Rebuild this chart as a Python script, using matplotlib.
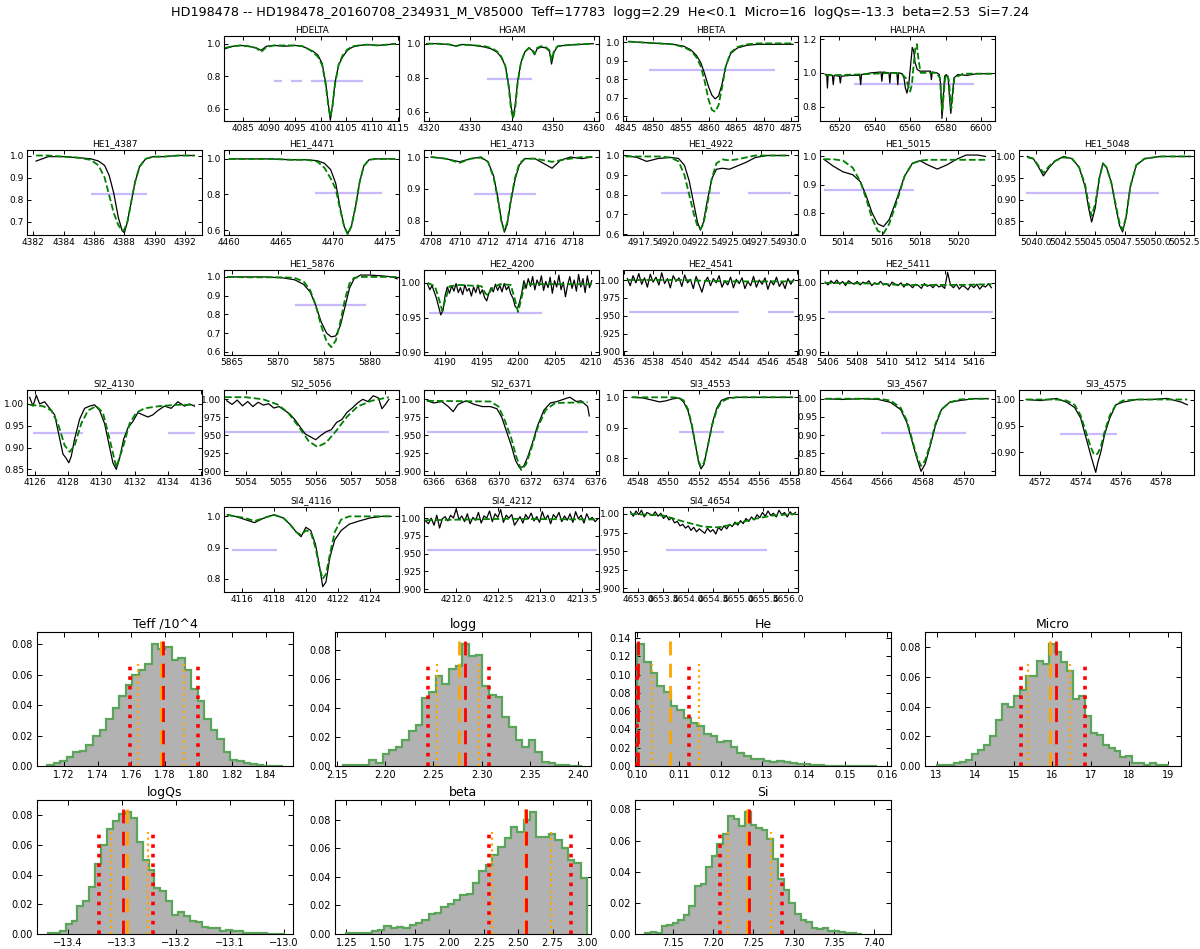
import numpy as np
import matplotlib
matplotlib.use("Agg")
import matplotlib.pyplot as plt
from matplotlib.ticker import FuncFormatter

title = ("HD198478 -- HD198478_20160708_234931_M_V85000  Teff=17783  logg=2.29  "
         "He<0.1  Micro=16  logQs=-13.3  beta=2.53  Si=7.24")

hdelta_w = [4081.5, 4083, 4084.5, 4086, 4087.5, 4088.5, 4089.5, 4091, 4093, 4095, 4096.5, 4097.5,
            4098.5, 4099.5, 4100.3, 4101.0, 4101.5, 4101.9, 4102.3, 4102.8, 4103.5, 4104.3, 4105.2,
            4106.2, 4107.5, 4109, 4111, 4113, 4114.5]
hdelta_obs = [0.97, 0.985, 0.99, 0.985, 0.975, 0.96, 0.985, 0.99, 0.985, 0.99, 0.985, 0.97, 0.955,
              0.93, 0.88, 0.76, 0.63, 0.53, 0.62, 0.76, 0.87, 0.92, 0.96, 0.98, 0.99, 0.995, 0.99,
              0.995, 1.0]
hdelta_mod = [0.975, 0.985, 0.99, 0.985, 0.975, 0.95, 0.98, 0.99, 0.99, 0.99, 0.985, 0.97, 0.95,
              0.92, 0.87, 0.75, 0.62, 0.55, 0.61, 0.75, 0.87, 0.93, 0.965, 0.985, 0.99, 0.995, 0.99,
              0.995, 1.0]

hgam_w = [4319.5, 4322, 4325, 4326.5, 4328, 4331, 4333.5, 4335, 4336.5, 4337.5, 4338.5, 4339.3,
          4339.9, 4340.4, 4340.9, 4341.5, 4342.3, 4343.2, 4344.2, 4345.0, 4345.6, 4346.2, 4347.2,
          4348.3, 4349.2, 4349.7, 4350.3, 4351.2, 4353, 4356, 4359.8]
hgam_obs = [1.0, 1.0, 0.995, 0.985, 0.995, 0.99, 0.98, 0.97, 0.95, 0.92, 0.87, 0.76, 0.63, 0.565,
            0.64, 0.78, 0.89, 0.95, 0.975, 0.96, 0.935, 0.97, 0.98, 0.975, 0.955, 0.88, 0.95, 0.985,
            0.99, 0.995, 1.0]
hgam_mod = [1.0, 1.0, 0.995, 0.985, 0.995, 0.99, 0.985, 0.975, 0.955, 0.925, 0.87, 0.75, 0.61, 0.56,
            0.62, 0.77, 0.89, 0.95, 0.975, 0.965, 0.94, 0.975, 0.985, 0.98, 0.96, 0.9, 0.96, 0.985,
            0.99, 0.995, 1.0]

hbeta_w = [4845.5, 4848, 4851, 4853.5, 4855.5, 4856.8, 4857.8, 4858.6, 4859.3, 4860.0, 4860.6,
           4861.2, 4861.8, 4862.4, 4863.1, 4864.0, 4865.2, 4867, 4869, 4872, 4875.3]
hbeta_obs = [1.005, 1.0, 0.995, 0.99, 0.98, 0.96, 0.93, 0.89, 0.83, 0.76, 0.715, 0.695, 0.71, 0.77,
             0.87, 0.94, 0.97, 0.985, 0.99, 0.99, 0.99]
hbeta_mod = [1.005, 1.0, 0.995, 0.99, 0.975, 0.955, 0.92, 0.87, 0.79, 0.69, 0.635, 0.625, 0.66, 0.75,
             0.87, 0.945, 0.975, 0.99, 0.995, 0.995, 0.995]

halpha_w_obs = [6512, 6512.8, 6513.2, 6513.6, 6516, 6516.5, 6517, 6520, 6520.5, 6521, 6526, 6531.5,
                6532, 6532.5, 6538, 6543.5, 6544, 6544.5, 6548, 6548.5, 6549, 6552.5, 6553, 6553.5,
                6555.5, 6556.5, 6557.3, 6558.2, 6559.2, 6560.2, 6561.2, 6562.0, 6562.8, 6564.0,
                6565.5, 6567.5, 6571.5, 6572, 6572.5, 6575, 6576.5, 6577.3, 6578.0, 6578.7, 6579.5,
                6580.5, 6581.5, 6582.3, 6583.0, 6583.7, 6584.8, 6587, 6592, 6598, 6606]
halpha_obs = [0.99, 0.99, 0.91, 0.99, 0.985, 0.93, 0.985, 0.98, 0.94, 0.98, 0.985, 0.985, 0.93, 0.99,
              1.0, 1.005, 0.95, 1.005, 1.0, 0.94, 1.0, 1.0, 0.93, 1.0, 0.995, 0.97, 0.91, 0.88, 0.93,
              1.04, 1.15, 1.13, 1.06, 1.02, 1.01, 1.01, 1.01, 0.96, 1.005, 1.0, 0.99, 0.93, 0.73,
              0.85, 0.98, 0.99, 0.97, 0.85, 0.76, 0.85, 0.97, 0.99, 0.985, 0.995, 0.995]
halpha_w_mod = [6512, 6530, 6550, 6555, 6557.5, 6559.0, 6560.0, 6561.0, 6562.0, 6563.0, 6563.8,
                6564.8, 6566, 6570, 6575, 6576.8, 6577.6, 6578.2, 6578.8, 6579.8, 6581, 6582, 6582.7,
                6583.3, 6584, 6585, 6590, 6606]
halpha_mod = [0.985, 0.99, 1.0, 0.995, 0.97, 0.92, 0.89, 0.93, 1.05, 1.15, 1.17, 1.07, 1.0, 1.0, 1.0,
              0.97, 0.85, 0.77, 0.85, 0.97, 0.99, 0.95, 0.84, 0.79, 0.86, 0.97, 0.995, 0.995]

he4387_w = [4382.2, 4383, 4384, 4385, 4385.8, 4386.3, 4386.7, 4387.0, 4387.3, 4387.6, 4387.85, 4388.0,
            4388.2, 4388.45, 4388.7, 4389.0, 4389.4, 4389.9, 4390.6, 4391.5, 4392.6]
he4387_obs = [0.975, 0.995, 0.995, 0.99, 0.985, 0.975, 0.955, 0.91, 0.83, 0.72, 0.66, 0.65, 0.70,
              0.79, 0.88, 0.95, 0.985, 0.995, 0.995, 1.0, 1.0]
he4387_mod = [1.0, 1.0, 0.995, 0.99, 0.98, 0.955, 0.90, 0.82, 0.74, 0.685, 0.66, 0.665, 0.70, 0.79,
              0.88, 0.95, 0.985, 0.995, 0.995, 1.0, 1.0]

he4471_w = [4460, 4462, 4464, 4466, 4467.5, 4468.5, 4469.2, 4469.8, 4470.3, 4470.7, 4471.1, 4471.45,
            4471.8, 4472.2, 4472.6, 4473.0, 4473.5, 4474.2, 4475, 4476]
he4471_obs = [1.0, 1.0, 1.0, 0.995, 0.995, 0.99, 0.975, 0.94, 0.86, 0.73, 0.62, 0.58, 0.62, 0.73,
              0.87, 0.96, 0.995, 1.0, 1.0, 1.0]
he4471_mod = [1.0, 1.0, 1.0, 0.995, 0.995, 0.985, 0.95, 0.89, 0.83, 0.72, 0.62, 0.575, 0.62, 0.73,
              0.87, 0.96, 0.995, 1.0, 1.0, 1.0]

he4713_w = [4708, 4709, 4710, 4710.8, 4711.5, 4712.0, 4712.4, 4712.7, 4712.95, 4713.15, 4713.35,
            4713.6, 4713.9, 4714.2, 4714.6, 4715.3, 4715.9, 4716.5, 4717.1, 4717.8, 4718.6, 4719.3]
he4713_obs = [1.0, 0.995, 0.985, 0.995, 1.0, 0.985, 0.94, 0.87, 0.80, 0.765, 0.79, 0.86, 0.93, 0.975,
              0.995, 0.995, 0.98, 0.965, 0.99, 1.0, 0.995, 1.0]
he4713_mod = [1.0, 0.995, 0.982, 0.995, 0.998, 0.985, 0.935, 0.865, 0.795, 0.77, 0.795, 0.865, 0.935,
              0.98, 0.995, 0.995, 0.99, 0.985, 0.99, 0.995, 1.0, 1.0]

he4922_w = [4916, 4917, 4917.8, 4918.8, 4919.8, 4920.5, 4921.0, 4921.4, 4921.8, 4922.1, 4922.35,
            4922.6, 4922.9, 4923.3, 4923.7, 4924.2, 4924.8, 4925.4, 4926.2, 4927, 4928, 4929, 4929.8]
he4922_obs = [1.0, 0.99, 0.97, 0.985, 0.99, 0.985, 0.95, 0.87, 0.75, 0.66, 0.62, 0.66, 0.76, 0.88,
              0.93, 0.935, 0.93, 0.945, 0.965, 0.99, 1.0, 1.0, 1.0]
he4922_mod = [0.995, 0.995, 0.995, 0.995, 0.99, 0.97, 0.9, 0.8, 0.7, 0.64, 0.625, 0.65, 0.74, 0.88,
              0.96, 0.98, 0.975, 0.98, 0.99, 1.0, 1.0, 1.0, 1.0]

he5015_w = [5013.0, 5013.5, 5014.0, 5014.5, 5014.9, 5015.2, 5015.5, 5015.8, 5016.1, 5016.4, 5016.8,
            5017.2, 5017.6, 5018.0, 5018.4, 5018.9, 5019.4, 5019.9, 5020.4, 5021.0, 5021.4]
he5015_obs = [0.99, 0.965, 0.945, 0.935, 0.91, 0.86, 0.80, 0.76, 0.75, 0.775, 0.85, 0.93, 0.975,
              0.985, 0.97, 0.955, 0.97, 0.99, 1.005, 1.005, 1.0]
he5015_mod = [0.99, 0.99, 0.985, 0.96, 0.91, 0.85, 0.78, 0.735, 0.725, 0.76, 0.84, 0.93, 0.975,
              0.985, 0.988, 0.988, 0.988, 0.988, 0.988, 0.988, 0.988]

he5048_w = [5039.3, 5039.8, 5040.25, 5040.65, 5041.15, 5041.65, 5042.35, 5043.05, 5043.65, 5044.15,
            5044.45, 5044.7, 5045.0, 5045.35, 5045.65, 5045.95, 5046.35, 5046.75, 5047.05, 5047.3,
            5047.6, 5047.95, 5048.45, 5049.15, 5050.5, 5052, 5053]
he5048_obs = [1.0, 0.995, 0.975, 0.955, 0.975, 0.99, 1.0, 0.995, 0.975, 0.93, 0.88, 0.848, 0.88,
              0.95, 0.985, 0.975, 0.94, 0.88, 0.84, 0.825, 0.86, 0.93, 0.98, 0.995, 1.0, 1.0, 1.0]
he5048_mod = [0.998, 0.995, 0.978, 0.962, 0.978, 0.99, 0.998, 0.995, 0.975, 0.935, 0.89, 0.862, 0.89,
              0.95, 0.983, 0.975, 0.94, 0.885, 0.845, 0.83, 0.86, 0.93, 0.98, 0.995, 1.0, 1.0, 1.0]

he5876_w = [5864.5, 5866.5, 5868.5, 5870.5, 5871.8, 5872.8, 5873.5, 5874.1, 5874.7, 5875.3, 5875.8,
            5876.3, 5876.8, 5877.3, 5877.8, 5878.3, 5879, 5880, 5881.5, 5882.5, 5883.0]
he5876_obs = [1.0, 1.0, 1.0, 0.995, 0.985, 0.96, 0.92, 0.85, 0.76, 0.70, 0.68, 0.685, 0.74, 0.84,
              0.94, 0.99, 1.01, 1.01, 1.005, 1.0, 0.99]
he5876_mod = [1.0, 0.998, 0.998, 0.998, 0.995, 0.975, 0.93, 0.85, 0.74, 0.655, 0.625, 0.66, 0.76,
              0.88, 0.965, 0.995, 1.0, 1.0, 1.0, 1.0, 1.0]

# noisy windows: observed flux on a regular pixel grid (start, step)
he4200_start, he4200_step = 4187.6, 0.3
he4200_obs = [0.998, 0.990, 0.996, 0.987, 0.978, 0.966, 0.954, 0.960, 0.982, 0.994,
              0.985, 0.996, 0.988, 0.999, 0.986, 0.993, 0.983, 0.997, 0.988, 0.992,
              0.981, 0.994, 0.986, 0.997, 0.984, 0.990, 0.979, 0.974, 0.985, 0.993,
              0.987, 0.998, 0.989, 0.996, 0.987, 0.999, 0.990, 0.995, 0.984, 0.978,
              0.966, 0.963, 0.972, 0.985, 1.003, 0.992, 1.006, 0.995, 1.009, 0.990,
              1.004, 0.996, 1.010, 0.989, 1.002, 0.993, 1.008, 0.985, 1.003, 0.994,
              1.011, 0.990, 1.001, 0.980, 0.997, 1.009, 0.992, 1.004, 0.988, 1.012,
              0.994, 1.006, 0.986, 1.010, 0.993, 1.003]
he4200_w_mod = [4187.6, 4188.6, 4189.2, 4189.6, 4190.0, 4190.6, 4192, 4195.0, 4195.5, 4195.9,
                4196.4, 4197.5, 4199.0, 4199.6, 4200.0, 4200.4, 4200.9, 4202, 4210.1]
he4200_mod = [1.0, 0.995, 0.975, 0.96, 0.975, 0.995, 0.997, 0.995, 0.985, 0.982, 0.992, 0.998,
              0.997, 0.975, 0.958, 0.975, 0.998, 0.998, 0.998]

he4541_start, he4541_step = 4536.2, 0.2
he4541_obs = [1.002, 0.992, 1.006, 0.996, 1.009, 0.994, 1.003, 0.990, 1.008, 0.997,
              1.004, 0.993, 1.010, 0.995, 1.002, 0.989, 1.006, 0.998, 1.003, 0.991,
              1.007, 0.996, 1.001, 0.988, 1.005, 0.994, 0.983, 0.997, 1.004, 0.992,
              1.002, 0.996, 1.006, 0.990, 0.999, 0.993, 1.004, 0.989, 1.001, 0.995,
              1.003, 0.988, 0.998, 0.992, 1.005, 0.990, 1.000, 0.994, 1.003, 0.987,
              0.999, 0.993, 1.004, 0.991, 0.998, 0.988, 1.002, 0.994, 1.001]
he4541_w_mod = [4536.2, 4540, 4543, 4547.8]
he4541_mod = [1.0, 1.0, 0.998, 0.998]

he5411_start, he5411_step = 5405.8, 0.2
he5411_obs = [1.001, 0.997, 1.003, 0.999, 1.004, 0.998, 1.002, 0.996, 1.003, 1.000,
              0.998, 1.002, 0.997, 1.001, 0.999, 1.003, 0.996, 1.000, 0.998, 1.002,
              0.997, 0.999, 0.995, 1.001, 0.998, 0.996, 1.000, 0.994, 0.999, 0.997,
              0.993, 0.998, 0.996, 0.992, 0.999, 0.995, 0.997, 0.993, 0.998, 0.994,
              0.996, 0.992, 1.015, 0.997, 0.993, 0.998, 0.991, 0.996, 0.994, 0.990,
              0.997, 0.993, 0.998, 0.991, 0.996, 0.994, 0.999, 0.993]
he5411_w_mod = [5405.8, 5409, 5411, 5415, 5417.2]
he5411_mod = [1.0, 0.999, 0.997, 0.997, 0.998]

si4130_w = [4125.7, 4125.9, 4126.1, 4126.3, 4126.6, 4126.9, 4127.2, 4127.45, 4127.7, 4127.9, 4128.05,
            4128.2, 4128.4, 4128.7, 4129.0, 4129.3, 4129.6, 4129.9, 4130.2, 4130.45, 4130.7, 4130.9,
            4131.1, 4131.35, 4131.6, 4131.9, 4132.2, 4132.5, 4132.8, 4133.1, 4133.4, 4133.8, 4134.2,
            4134.6, 4135.0, 4135.3, 4135.6]
si4130_obs = [1.015, 0.995, 1.02, 1.0, 1.005, 0.99, 0.975, 0.93, 0.885, 0.875, 0.865, 0.88, 0.92,
              0.965, 0.99, 0.995, 0.998, 0.985, 0.955, 0.91, 0.865, 0.85, 0.875, 0.92, 0.945, 0.96,
              0.98, 0.975, 0.97, 0.975, 0.985, 0.995, 0.99, 1.005, 0.995, 1.0, 0.995]
si4130_w_mod = [4125.7, 4126.5, 4127.0, 4127.4, 4127.8, 4128.1, 4128.4, 4128.8, 4129.2, 4129.7,
                4130.1, 4130.5, 4130.9, 4131.3, 4131.7, 4132.1, 4132.6, 4133.5, 4134.5, 4135.6]
si4130_mod = [0.998, 0.995, 0.985, 0.955, 0.905, 0.89, 0.905, 0.955, 0.985, 0.995, 0.98, 0.92,
              0.855, 0.9, 0.955, 0.98, 0.99, 0.995, 0.998, 0.998]

si5056_w = [5053.45, 5053.6, 5053.75, 5053.9, 5054.05, 5054.2, 5054.35, 5054.5, 5054.65, 5054.8,
            5054.95, 5055.1, 5055.25, 5055.4, 5055.55, 5055.7, 5055.85, 5056.0, 5056.15, 5056.3,
            5056.45, 5056.6, 5056.75, 5056.9, 5057.05, 5057.2, 5057.35, 5057.5, 5057.65, 5057.8,
            5057.9, 5058.0, 5058.1]
si5056_obs = [0.998, 0.993, 0.999, 0.991, 0.997, 0.99, 0.996, 0.992, 0.994, 0.988, 0.99, 0.985,
              0.98, 0.972, 0.962, 0.952, 0.948, 0.944, 0.95, 0.955, 0.958, 0.968, 0.972, 0.982,
              0.988, 0.995, 1.0, 0.997, 1.005, 1.002, 0.987, 0.993, 1.0]
si5056_w_mod = [5053.4, 5054.0, 5054.5, 5054.9, 5055.2, 5055.5, 5055.8, 5056.05, 5056.3, 5056.6,
                5056.9, 5057.2, 5057.6, 5058.1]
si5056_mod = [1.003, 1.003, 1.0, 0.993, 0.982, 0.963, 0.942, 0.934, 0.94, 0.957, 0.976, 0.99,
              0.998, 1.003]

si6371_w = [6365.6, 6366.0, 6366.5, 6366.9, 6367.2, 6367.5, 6368.0, 6368.5, 6369.0, 6369.5, 6369.9,
            6370.2, 6370.5, 6370.8, 6371.05, 6371.3, 6371.55, 6371.8, 6372.1, 6372.4, 6372.8,
            6373.2, 6373.6, 6374.0, 6374.4, 6374.8, 6375.1, 6375.35, 6375.5, 6375.6]
si6371_obs = [0.998, 0.995, 0.997, 0.99, 0.983, 0.993, 0.998, 0.993, 0.99, 0.99, 0.987, 0.975,
              0.955, 0.935, 0.915, 0.905, 0.907, 0.92, 0.94, 0.963, 0.985, 0.995, 0.997, 1.0, 1.003,
              0.997, 0.998, 0.993, 0.99, 0.977]
si6371_w_mod = [6365.6, 6369.5, 6370.0, 6370.4, 6370.8, 6371.1, 6371.4, 6371.7, 6372.0, 6372.4,
                6372.9, 6373.5, 6375.5]
si6371_mod = [0.998, 0.997, 0.99, 0.97, 0.945, 0.92, 0.902, 0.91, 0.93, 0.96, 0.985, 0.995, 0.996]

si4553_w = [4547.6, 4548.3, 4549.0, 4549.4, 4549.8, 4550.3, 4550.7, 4551.0, 4551.3, 4551.55, 4551.8,
            4552.0, 4552.15, 4552.35, 4552.6, 4552.9, 4553.2, 4553.5, 4553.9, 4554.5, 4556, 4557,
            4558.2]
si4553_obs = [1.0, 0.998, 0.99, 0.985, 0.988, 0.995, 0.998, 0.985, 0.955, 0.905, 0.84, 0.785, 0.765,
              0.78, 0.84, 0.915, 0.965, 0.99, 0.998, 1.0, 1.0, 1.0, 1.0]
si4553_mod = [1.0, 1.0, 1.0, 1.0, 1.0, 1.0, 0.998, 0.99, 0.96, 0.91, 0.84, 0.79, 0.772, 0.785, 0.84,
              0.91, 0.96, 0.985, 0.995, 1.0, 1.0, 1.0, 1.0]

si4567_w = [4563.2, 4564, 4565, 4565.8, 4566.4, 4566.9, 4567.2, 4567.45, 4567.7, 4567.9, 4568.1,
            4568.35, 4568.6, 4568.9, 4569.3, 4569.8, 4570.5, 4571.2]
si4567_obs = [1.0, 0.998, 1.0, 0.998, 0.99, 0.97, 0.935, 0.885, 0.835, 0.80, 0.82, 0.87, 0.925, 0.97,
              0.99, 0.995, 1.0, 1.0]
si4567_mod = [1.0, 1.0, 1.0, 1.0, 0.995, 0.975, 0.94, 0.89, 0.84, 0.815, 0.83, 0.875, 0.93, 0.97,
              0.99, 0.998, 1.0, 1.0]

si4575_w = [4571.3, 4572, 4572.8, 4573.3, 4573.7, 4574.0, 4574.25, 4574.5, 4574.65, 4574.75, 4574.85,
            4575.0, 4575.2, 4575.45, 4575.75, 4576.1, 4576.8, 4577.5, 4578.3, 4579.0, 4579.3]
si4575_obs = [1.0, 0.998, 1.002, 0.995, 0.985, 0.965, 0.93, 0.895, 0.875, 0.862, 0.88, 0.9, 0.935,
              0.965, 0.99, 0.995, 1.0, 1.0, 1.002, 0.995, 0.99]
si4575_mod = [1.0, 1.0, 1.0, 0.998, 0.99, 0.97, 0.94, 0.91, 0.897, 0.895, 0.898, 0.91, 0.94, 0.97,
              0.99, 0.998, 1.0, 1.0, 1.0, 1.0, 1.0]

si4116_w = [4115.1, 4115.6, 4116.2, 4116.8, 4117.4, 4118.0, 4118.6, 4119.0, 4119.4, 4119.7, 4120.0,
            4120.3, 4120.6, 4120.85, 4121.05, 4121.25, 4121.5, 4121.8, 4122.2, 4122.7, 4123.3, 4124,
            4124.7, 4125.3]
si4116_obs = [1.005, 1.0, 0.99, 0.98, 0.995, 1.005, 0.995, 0.975, 0.95, 0.935, 0.965, 0.955, 0.91,
              0.84, 0.775, 0.79, 0.87, 0.925, 0.955, 0.975, 0.985, 0.995, 1.0, 1.0]
si4116_mod = [1.005, 1.0, 0.995, 0.985, 0.995, 1.005, 0.995, 0.975, 0.95, 0.94, 0.955, 0.95, 0.9,
              0.835, 0.8, 0.815, 0.88, 0.95, 0.99, 1.0, 1.0, 1.0, 1.0, 1.0]

si4212_start, si4212_step = 4211.64, 0.033
si4212_obs = [0.996, 0.992, 1.000, 0.990, 1.004, 0.986, 0.999, 1.002, 0.996, 1.004,
              1.000, 1.013, 0.998, 1.003, 0.995, 1.006, 0.992, 1.001, 0.997, 1.008,
              0.993, 1.003, 1.000, 1.010, 0.995, 1.006, 1.001, 1.012, 0.994, 1.004,
              1.000, 1.005, 0.990, 0.996, 1.002, 0.993, 1.005, 0.999, 1.007, 0.996,
              1.002, 0.994, 1.009, 0.998, 1.004, 0.992, 1.005, 1.000, 1.008, 0.995,
              1.003, 0.997, 1.006, 0.994, 1.009, 0.999, 1.004, 0.993, 1.006, 0.998,
              1.001, 0.995, 0.999]
si4212_w_mod = [4211.64, 4212.6, 4213.68]
si4212_mod = [0.997, 0.999, 0.998]

si4654_start, si4654_step = 4652.85, 0.055
si4654_obs = [1.003, 0.997, 1.004, 0.999, 1.005, 0.996, 1.002, 1.000, 0.998, 1.003,
              0.997, 1.001, 0.994, 0.998, 0.992, 0.995, 0.988, 0.990, 0.984, 0.986,
              0.981, 0.984, 0.978, 0.982, 0.976, 0.980, 0.977, 0.974, 0.981, 0.976,
              0.979, 0.973, 0.982, 0.978, 0.984, 0.980, 0.986, 0.983, 0.989, 0.985,
              0.991, 0.987, 0.994, 0.990, 0.996, 0.992, 0.999, 0.995, 1.002, 0.997,
              1.004, 0.998, 1.001, 0.996, 1.005, 0.999, 1.002, 0.996, 1.003, 0.999, 1.002]
si4654_w_mod = [4652.85, 4653.5, 4653.9, 4654.3, 4654.6, 4654.9, 4655.3, 4655.7, 4656.15]
si4654_mod = [1.0, 0.998, 0.99, 0.983, 0.982, 0.986, 0.993, 0.998, 1.0]


def grid(start, step, flux):
    return start + step * np.arange(len(flux))


# name, row, col, obs_w, obs_f, mod_w, mod_f, xlim, xticks, ylim, yticks, decimals, purple y, purple segments
panels = [
    ("HDELTA", 0, 1, hdelta_w, hdelta_obs, hdelta_w, hdelta_mod, (4081.3, 4115.2),
     np.arange(4085, 4116, 5), (0.525, 1.048), [0.6, 0.8, 1.0], 1, 0.77,
     [(4090.9, 4092.5), (4094.2, 4096.5), (4098.2, 4108.2)]),
    ("HGAM", 0, 2, hgam_w, hgam_obs, hgam_w, hgam_mod, (4318.8, 4361.2),
     np.arange(4320, 4361, 10), (0.545, 1.045), [0.6, 0.8, 1.0], 1, 0.79, [(4334.0, 4345.0)]),
    ("HBETA", 0, 3, hbeta_w, hbeta_obs, hbeta_w, hbeta_mod, (4844.5, 4876.2),
     np.arange(4845, 4876, 5), (0.575, 1.035), [0.6, 0.7, 0.8, 0.9, 1.0], 1, 0.853,
     [(4849.3, 4872.0)]),
    ("HALPHA", 0, 4, halpha_w_obs, halpha_obs, halpha_w_mod, halpha_mod, (6509, 6608),
     np.arange(6520, 6601, 20), (0.715, 1.218), [0.8, 1.0, 1.2], 1, 0.935, [(6528, 6596)]),
    ("HE1_4387", 1, 0, he4387_w, he4387_obs, he4387_w, he4387_mod, (4381.6, 4393.1),
     np.arange(4382, 4393, 2), (0.64, 1.025), [0.7, 0.8, 0.9, 1.0], 1, 0.825,
     [(4385.8, 4389.5)]),
    ("HE1_4471", 1, 1, he4471_w, he4471_obs, he4471_w, he4471_mod, (4459.5, 4476.4),
     np.arange(4460, 4476, 5), (0.572, 1.05), [0.6, 0.8, 1.0], 1, 0.808, [(4468.3, 4474.8)]),
    ("HE1_4713", 1, 2, he4713_w, he4713_obs, he4713_w, he4713_mod, (4707.5, 4719.8),
     np.arange(4708, 4719, 2), (0.756, 1.022), [0.8, 0.9, 1.0], 1, 0.885, [(4711.0, 4715.4)]),
    ("HE1_4922", 1, 3, he4922_w, he4922_obs, he4922_w, he4922_mod, (4915.8, 4930.6),
     np.arange(4917.5, 4930.1, 2.5), (0.595, 1.028), [0.6, 0.7, 0.8, 0.9, 1.0], 1, 0.81,
     [(4919.0, 4924.0), (4926.4, 4930.0)]),
    ("HE1_5015", 1, 4, he5015_w, he5015_obs, he5015_w, he5015_mod, (5012.8, 5021.9),
     np.arange(5014, 5021, 2), (0.72, 1.023), [0.8, 0.9, 1.0], 1, 0.88, [(5013.0, 5017.7)]),
    ("HE1_5048", 1, 5, he5048_w, he5048_obs, he5048_w, he5048_mod, (5038.6, 5053.3),
     np.arange(5040, 5052.6, 2.5), (0.818, 1.015), [0.85, 0.9, 0.95, 1.0], 2, 0.915,
     [(5039.2, 5050.4)]),
    ("HE1_5876", 2, 1, he5876_w, he5876_obs, he5876_w, he5876_mod, (5864.1, 5883.2),
     np.arange(5865, 5881, 5), (0.583, 1.037), [0.6, 0.7, 0.8, 0.9, 1.0], 1, 0.85,
     [(5871.8, 5879.6)]),
    ("HE2_4200", 2, 2, grid(he4200_start, he4200_step, he4200_obs), he4200_obs, he4200_w_mod,
     he4200_mod, (4187.1, 4211.1), np.arange(4190, 4211, 5), (0.8963, 1.0184),
     [0.9, 0.95, 1.0], 2, 0.957, [(4187.8, 4203.3)]),
    ("HE2_4541", 2, 3, grid(he4541_start, he4541_step, he4541_obs), he4541_obs, he4541_w_mod,
     he4541_mod, (4535.9, 4548.1), np.arange(4536, 4549, 2), (0.895, 1.014),
     [0.9, 0.925, 0.95, 0.975, 1.0], 3, 0.955, [(4536.3, 4544.0), (4546.0, 4547.8)]),
    ("HE2_5411", 2, 4, grid(he5411_start, he5411_step, he5411_obs), he5411_obs, he5411_w_mod,
     he5411_mod, (5405.45, 5417.45), np.arange(5406, 5417, 2), (0.896, 1.0185),
     [0.9, 0.95, 1.0], 2, 0.958, [(5406.0, 5417.3)]),
    ("SI2_4130", 3, 0, si4130_w, si4130_obs, si4130_w_mod, si4130_mod, (4125.54, 4136.05),
     np.arange(4126, 4137, 2), (0.837, 1.032), [0.85, 0.9, 0.95, 1.0], 2, 0.933,
     [(4125.9, 4128.9), (4130.5, 4131.4), (4134.0, 4135.6)]),
    ("SI2_5056", 3, 1, si5056_w, si5056_obs, si5056_w_mod, si5056_mod, (5053.37, 5058.39),
     np.arange(5054, 5059, 1), (0.895, 1.013), [0.9, 0.925, 0.95, 0.975, 1.0], 3, 0.954,
     [(5053.4, 5058.1)]),
    ("SI2_6371", 3, 2, si6371_w, si6371_obs, si6371_w_mod, si6371_mod, (6365.4, 6376.2),
     np.arange(6366, 6377, 2), (0.895, 1.013), [0.9, 0.925, 0.95, 0.975, 1.0], 3, 0.954,
     [(6365.6, 6375.5)]),
    ("SI3_4553", 3, 3, si4553_w, si4553_obs, si4553_w, si4553_mod, (4547.0, 4558.56),
     np.arange(4548, 4559, 2), (0.745, 1.024), [0.8, 0.9, 1.0], 1, 0.885, [(4550.7, 4553.65)]),
    ("SI3_4567", 3, 4, si4567_w, si4567_obs, si4567_w, si4567_mod, (4562.94, 4571.53),
     np.arange(4564, 4571, 2), (0.79, 1.024), [0.8, 0.85, 0.9, 0.95, 1.0], 2, 0.906,
     [(4565.93, 4570.1)]),
    ("SI3_4575", 3, 5, si4575_w, si4575_obs, si4575_w, si4575_mod, (4570.94, 4579.63),
     np.arange(4572, 4579, 2), (0.857, 1.018), [0.9, 0.95, 1.0], 2, 0.935, [(4572.96, 4575.79)]),
    ("SI4_4116", 4, 1, si4116_w, si4116_obs, si4116_w, si4116_mod, (4114.9, 4125.8),
     np.arange(4116, 4125, 2), (0.758, 1.03), [0.8, 0.9, 1.0], 1, 0.893, [(4115.4, 4118.2)]),
    ("SI4_4212", 4, 2, grid(si4212_start, si4212_step, si4212_obs), si4212_obs, si4212_w_mod,
     si4212_mod, (4211.62, 4213.70), np.arange(4212.0, 4213.6, 0.5), (0.896, 1.0156),
     [0.9, 0.925, 0.95, 0.975, 1.0], 3, 0.955, [(4211.66, 4213.68)]),
    ("SI4_4654", 4, 3, grid(si4654_start, si4654_step, si4654_obs), si4654_obs, si4654_w_mod,
     si4654_mod, (4652.7, 4656.2), np.arange(4653.0, 4656.1, 0.5), (0.895, 1.0094),
     [0.9, 0.925, 0.95, 0.975, 1.0], 3, 0.952, [(4653.56, 4655.57)]),
]

# ---------------- posterior histograms (fraction per bin) ----------------
teff_rng = (1.710, 1.850)
teff_h = [0.0005, 0.002, 0.003, 0.006, 0.009, 0.010, 0.014, 0.020, 0.024, 0.031, 0.038, 0.046,
          0.053, 0.060, 0.063, 0.067, 0.080, 0.077, 0.078, 0.070, 0.071, 0.063, 0.051, 0.043,
          0.031, 0.024, 0.018, 0.009, 0.004, 0.003, 0.002, 0.001, 0.0005, 0.0003, 0.0002, 0.0002]
teff_best, teff_med = 1.7790, 1.7775
teff_best_err, teff_med_err = [1.7595, 1.7994], [1.764, 1.7914]

logg_rng = (2.1555, 2.4045)
logg_h = [0.0005, 0.0005, 0.001, 0.001, 0.004, 0.002, 0.008, 0.011, 0.013, 0.018, 0.024, 0.028,
          0.047, 0.051, 0.062, 0.057, 0.067, 0.069, 0.084, 0.076, 0.077, 0.055, 0.049, 0.048,
          0.034, 0.027, 0.018, 0.013, 0.018, 0.010, 0.003, 0.002, 0.001, 0.0005, 0.0003, 0.0002]
logg_best, logg_med = 2.2828, 2.2766
logg_best_err, logg_med_err = [2.2447, 2.3082], [2.2537, 2.2971]

he_rng = (0.100, 0.1576)
he_h = [0.133, 0.114, 0.102, 0.088, 0.081, 0.066, 0.061, 0.052, 0.047, 0.044, 0.035, 0.033,
        0.026, 0.027, 0.021, 0.014, 0.011, 0.008, 0.008, 0.005, 0.004, 0.005, 0.004, 0.003,
        0.002, 0.002, 0.001, 0.001, 0.0005, 0.0005, 0.0005, 0.0003, 0.0003, 0.0002, 0.0002, 0.0002]
he_best, he_med = 0.1001, 0.1079
he_best_err, he_med_err = [0.1000, 0.1124], [0.1034, 0.1149]

micro_rng = (13.0, 19.0)
micro_h = [0.0005, 0.001, 0.001, 0.002, 0.003, 0.004, 0.008, 0.011, 0.014, 0.020, 0.031, 0.042,
           0.040, 0.047, 0.051, 0.061, 0.061, 0.071, 0.069, 0.082, 0.077, 0.070, 0.064, 0.045,
           0.047, 0.034, 0.022, 0.021, 0.014, 0.012, 0.010, 0.006, 0.007, 0.002, 0.002, 0.001,
           0.002, 0.0005, 0.0005]
micro_best, micro_med = 16.10, 15.95
micro_best_err, micro_med_err = [15.18, 16.85], [15.38, 16.46]

logqs_rng = (-13.437, -12.998)
logqs_h = [0.0005, 0.0005, 0.002, 0.007, 0.009, 0.019, 0.022, 0.032, 0.047, 0.060, 0.071, 0.076,
           0.081, 0.082, 0.078, 0.062, 0.050, 0.043, 0.031, 0.029, 0.022, 0.013, 0.015, 0.012,
           0.009, 0.008, 0.005, 0.004, 0.004, 0.002, 0.003, 0.002, 0.002, 0.001, 0.001, 0.0005,
           0.0005, 0.0003, 0.0003, 0.0003]
logqs_best, logqs_med = -13.2976, -13.290
logqs_best_err, logqs_med_err = [-13.342, -13.243], [-13.320, -13.252]

beta_rng = (1.25, 3.0)
beta_h = [0.0005, 0.001, 0.001, 0.001, 0.002, 0.003, 0.0055, 0.004, 0.005, 0.004, 0.006, 0.008,
          0.010, 0.014, 0.015, 0.019, 0.021, 0.024, 0.027, 0.028, 0.036, 0.044, 0.048, 0.055,
          0.061, 0.067, 0.075, 0.071, 0.080, 0.085, 0.068, 0.068, 0.070, 0.066, 0.060, 0.052,
          0.050, 0.039]
beta_best, beta_med = 2.553, 2.548
beta_best_err, beta_med_err = [2.29, 2.885], [2.31, 2.737]

si_rng = (7.1154, 7.3845)
si_h = [0.0005, 0.001, 0.0005, 0.005, 0.006, 0.007, 0.009, 0.012, 0.018, 0.031, 0.032, 0.043,
        0.050, 0.058, 0.064, 0.076, 0.074, 0.069, 0.078, 0.070, 0.068, 0.067, 0.061, 0.048,
        0.035, 0.028, 0.020, 0.013, 0.009, 0.008, 0.004, 0.003, 0.004, 0.002, 0.002, 0.001,
        0.0005, 0.0005, 0.0003]
si_best, si_med = 7.244, 7.2425
si_best_err, si_med_err = [7.209, 7.286], [7.218, 7.272]

hists = [
    ("Teff /10^4", 0, 0, teff_rng, teff_h, teff_best, teff_med, teff_best_err, teff_med_err,
     (1.704, 1.856), np.arange(1.72, 1.841, 0.02), "%.2f"),
    ("logg", 0, 1, logg_rng, logg_h, logg_best, logg_med, logg_best_err, logg_med_err,
     (2.1476, 2.4138), np.arange(2.15, 2.401, 0.05), "%.2f"),
    ("He", 0, 2, he_rng, he_h, he_best, he_med, he_best_err, he_med_err,
     (0.0994, 0.161), np.arange(0.10, 0.1601, 0.01), "%.2f"),
    ("Micro", 0, 3, micro_rng, micro_h, micro_best, micro_med, micro_best_err, micro_med_err,
     (12.70, 19.34), np.arange(13, 20, 1), "%d"),
    ("logQs", 1, 0, logqs_rng, logqs_h, logqs_best, logqs_med, logqs_best_err, logqs_med_err,
     (-13.457, -12.983), np.arange(-13.4, -12.99, 0.1), "%.1f"),
    ("beta", 1, 1, beta_rng, beta_h, beta_best, beta_med, beta_best_err, beta_med_err,
     (1.168, 3.029), np.arange(1.25, 3.01, 0.25), "%.2f"),
    ("Si", 1, 2, si_rng, si_h, si_best, si_med, si_best_err, si_med_err,
     (7.103, 7.421), np.arange(7.15, 7.401, 0.05), "%.2f"),
]


def yfmt(dec):
    def f(v, pos):
        s = "%.*f" % (dec, v)
        if dec == 3:
            s = s[1:] if s.startswith("0") else s[:4]
        return s
    return FuncFormatter(f)


W, H = 1200, 949
fig = plt.figure(figsize=(12, 9.49), dpi=100)
fig.text(0.5, 0.994, title, ha="center", va="top", fontsize=9.2)

col_left = [27, 224, 424, 623, 820, 1019]
row_top = [36, 150, 270, 390, 507]
pw, ph = 175, 85

for (name, r, c, ow, of, mw, mf, xl, xt, yl, yt, dec, py, segs) in panels:
    ax = fig.add_axes([col_left[c] / W, 1 - (row_top[r] + ph) / H, pw / W, ph / H])
    for a, b in segs:
        ax.hlines(py, a, b, color="#c9b8fa", lw=1.6, zorder=1)
    ax.plot(ow, of, color="black", lw=0.9, zorder=2)
    ax.plot(mw, mf, color="green", ls="--", lw=1.3, zorder=3)
    ax.set_xlim(*xl)
    ax.set_ylim(*yl)
    ax.set_xticks(xt)
    ax.set_yticks(yt)
    ax.yaxis.set_major_formatter(yfmt(dec))
    ax.ticklabel_format(axis="x", useOffset=False)
    ax.tick_params(direction="in", top=True, right=True, labelsize=6.5, length=3, width=0.7, pad=2)
    ax.set_title(name, fontsize=6.5, pad=2.5)

hist_left = [37, 335, 635, 925]
hist_top = [632, 800]
hw, hh = 256, 134

for (name, r, c, rng, h, best, med, best_err, med_err, xl, xt, xf) in hists:
    ax = fig.add_axes([hist_left[c] / W, 1 - (hist_top[r] + hh) / H, hw / W, hh / H])
    edges = np.linspace(rng[0], rng[1], len(h) + 1)
    hmax = max(h)
    ax.stairs(h, edges, fill=True, color="#b2b2b2", zorder=1)
    ax.stairs(h, edges, color="#5aa55a", lw=1.6, zorder=2)
    ax.vlines(med_err, 0, 0.84 * hmax, color="#ffa500", ls=":", lw=1.6, zorder=3)
    ax.vlines(best_err, 0, 0.84 * hmax, color="red", ls=":", lw=2.6, zorder=3)
    ax.vlines(med, 0, 1.05 * hmax, color="#ffa500", ls=(0, (5, 3)), lw=2.0, zorder=4)
    ax.vlines(best, 0, 1.05 * hmax, color="red", ls=(0, (5, 3)), lw=2.0, zorder=4)
    ax.set_xlim(*xl)
    ax.set_ylim(0, 1.1025 * hmax)
    ax.set_xticks(xt)
    ax.set_xticklabels([(xf % v).replace("-", "\u2212") for v in xt])
    ax.set_yticks(np.arange(0, 1.1025 * hmax, 0.02))
    ax.yaxis.set_major_formatter(FuncFormatter(lambda v, p: "%.2f" % v))
    ax.tick_params(direction="in", top=True, right=True, labelsize=7, length=3.5, width=0.7, pad=3)
    ax.set_title(name, fontsize=9, pad=3)

fig.savefig("out.png", dpi=100)
